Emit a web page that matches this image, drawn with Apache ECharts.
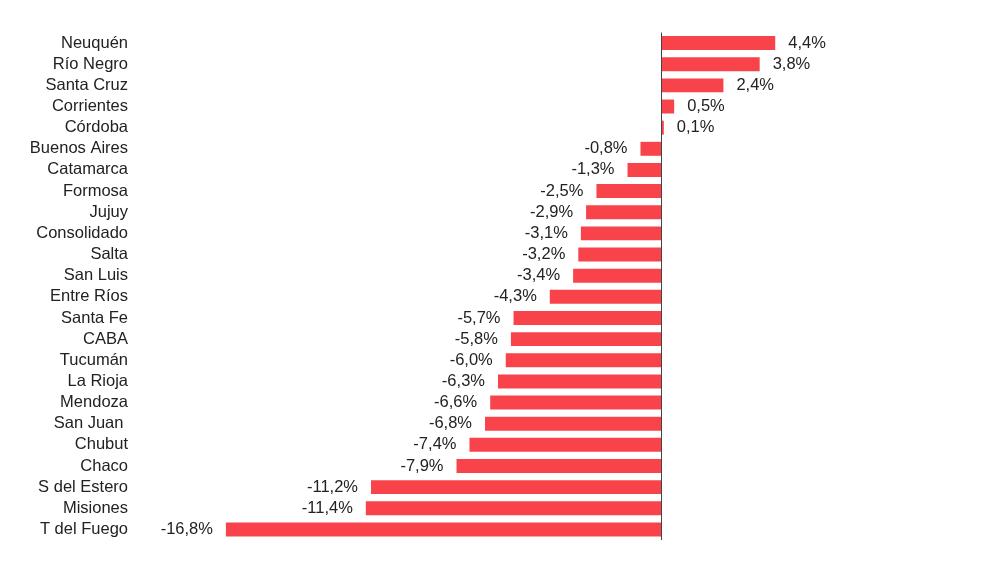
<!DOCTYPE html>
<html>
<head>
<meta charset="utf-8">
<script src="https://cdn.jsdelivr.net/npm/echarts@6/dist/echarts.min.js"></script>
<style>
  html, body { margin: 0; padding: 0; background: #fff; }
  #chart { width: 990px; height: 575px; }
</style>
</head>
<body>
<div id="chart"></div>
<script>
  // provincias y variación (%)
  const provincias = ['Neuquén', 'Río Negro', 'Santa Cruz', 'Corrientes', 'Córdoba', 'Buenos Aires',
    'Catamarca', 'Formosa', 'Jujuy', 'Consolidado', 'Salta', 'San Luis', 'Entre Ríos', 'Santa Fe',
    'CABA', 'Tucumán', 'La Rioja', 'Mendoza', 'San Juan ', 'Chubut', 'Chaco', 'S del Estero',
    'Misiones', 'T del Fuego'];
  const variacion = [4.4, 3.8, 2.4, 0.5, 0.1, -0.8, -1.3, -2.5, -2.9, -3.1, -3.2, -3.4, -4.3, -5.7,
    -5.8, -6.0, -6.3, -6.6, -6.8, -7.4, -7.9, -11.2, -11.4, -16.8];

  const chart = echarts.init(document.getElementById('chart'));

  const fmt = v => v.toFixed(1).replace('.', ',') + '%';

  const option = {
    backgroundColor: '#fff',
    animation: false,
    grid: { left: 143, right: 121.5, top: 32.5, bottom: 35 },
    xAxis: {
      type: 'value',
      min: -20,
      max: 8,
      axisLine: { show: false },
      axisTick: { show: false },
      axisLabel: { show: false },
      splitLine: { show: false }
    },
    yAxis: {
      type: 'category',
      inverse: true,
      data: provincias,
      axisLine: { show: false },
      axisTick: { show: false },
      axisLabel: {
        interval: 0,
        color: '#222',
        fontSize: 16.5,
        fontFamily: 'Liberation Sans, Arial, sans-serif',
        margin: 15
      }
    },
    series: [{
      type: 'bar',
      barWidth: '66%',
      itemStyle: { color: '#f8434a' },
      data: variacion.map(v => ({
        value: v,
        label: { position: v >= 0 ? 'right' : 'left' }
      })),
      label: {
        show: true,
        distance: 13,
        color: '#222',
        fontSize: 16.5,
        fontFamily: 'Liberation Sans, Arial, sans-serif',
        formatter: p => fmt(p.value)
      },
      markLine: {
        silent: true,
        symbol: 'none',
        label: { show: false },
        lineStyle: { color: '#444', width: 1, type: 'solid' },
        data: [{ xAxis: 0 }]
      }
    }]
  };

  chart.setOption(option);
</script>
</body>
</html>
